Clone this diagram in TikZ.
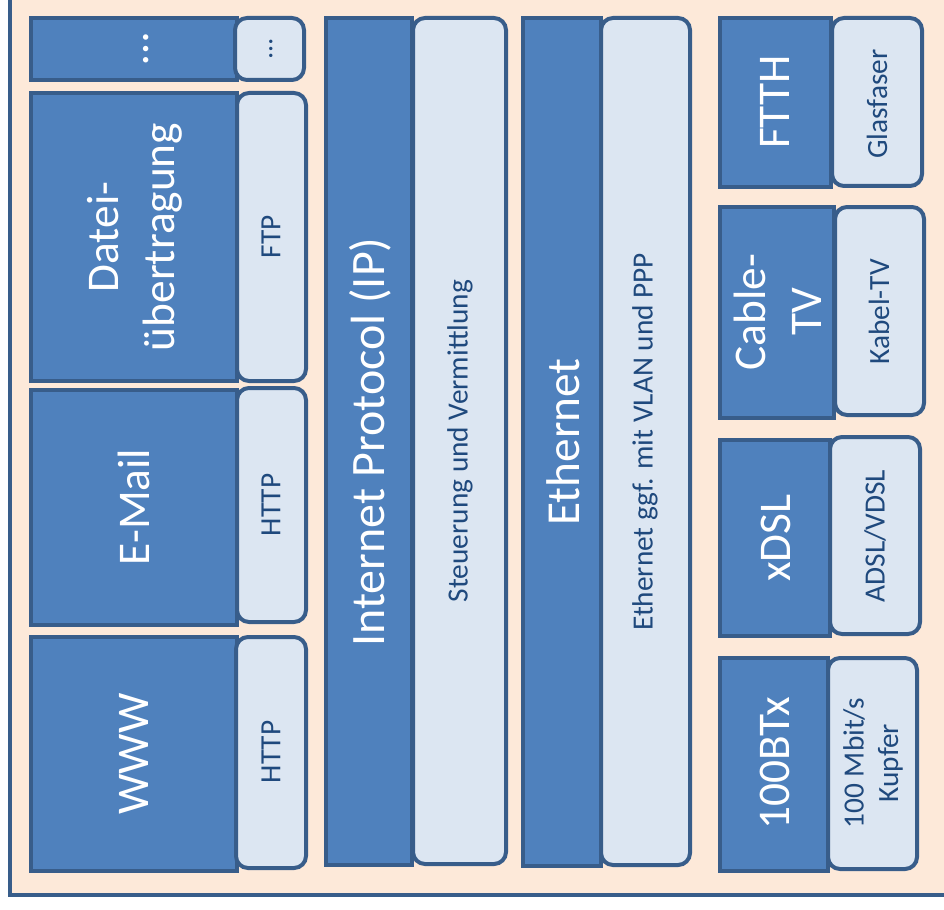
\documentclass[tikz,border=0pt]{standalone}
\usepackage{fontspec}
\setmainfont{Carlito}
\definecolor{frame}{HTML}{385D8A}
\definecolor{darkblue}{HTML}{4F81BD}
\definecolor{lightblue}{HTML}{DCE6F2}
\definecolor{peach}{HTML}{FDE9D9}
\definecolor{textblue}{HTML}{1F497D}
\begin{document}
\begin{tikzpicture}[x=0.75pt,y=0.75pt,yscale=-1,xscale=1,
  layer/.style={draw=frame,fill=darkblue,line width=3pt},
  proto/.style={draw=frame,fill=lightblue,line width=3pt,rounded corners=9pt},
  bigtxt/.style={text=white,font=\fontsize{34}{42}\selectfont,rotate=90,align=center,inner sep=0.75pt},
  smalltxt/.style={text=textblue,font=\fontsize{22}{26}\selectfont,rotate=90,align=center,inner sep=0.75pt}]
\useasboundingbox (0,0) rectangle (944,909);
\clip (0,0) rectangle (944,909);

%Shape: Rectangle [frame]
\draw [draw=frame,fill=peach,line width=3pt] (10,-20) rectangle (980,895) ;

%Shape: Rectangle [apps, dark]
\draw [layer] (31,18) rectangle (237,80) ;
\draw [layer] (31,93) rectangle (237,381) ;
\draw [layer] (31,390) rectangle (237,625) ;
\draw [layer] (31,637) rectangle (237,871) ;
%Shape: Rectangle [apps, light]
\draw [proto] (235,18) rectangle (304,80) ;
\draw [proto] (237,93) rectangle (306,381) ;
\draw [proto] (237,388) rectangle (306,622) ;
\draw [proto] (236,637) rectangle (306,868) ;

%Shape: Rectangle [ip]
\draw [layer] (326,18) rectangle (412,865) ;
\draw [proto] (413,18) rectangle (506,864) ;
%Shape: Rectangle [ethernet]
\draw [layer] (523,18) rectangle (601,866) ;
\draw [proto] (601,18) rectangle (690,865) ;

%Shape: Rectangle [access, dark]
\draw [layer] (720,18) rectangle (831,187) ;
\draw [layer] (720,207) rectangle (834,418) ;
\draw [layer] (720,440) rectangle (830,636) ;
\draw [layer] (720,658) rectangle (828,871) ;
%Shape: Rectangle [access, light]
\draw [proto] (832,18) rectangle (922,186) ;
\draw [proto] (835,207) rectangle (924,415) ;
\draw [proto] (830,437) rectangle (920,634) ;
\draw [proto] (828,658) rectangle (917,869) ;

% Text Node
\draw (146,49) node [bigtxt] (moreapp) {…};
% Text Node
\draw (271,49) node [smalltxt,font=\fontsize{21}{25}\selectfont] (moreproto) {…};
% Text Node
\draw (135,237) node [bigtxt] (file) {Datei-\\übertragung};
% Text Node
\draw (271,237) node [smalltxt] (ftp) {FTP};
% Text Node
\draw (134,507) node [bigtxt] (mail) {E-Mail};
% Text Node
\draw (271,505) node [smalltxt] (mailhttp) {HTTP};
% Text Node
\draw (134,754) node [bigtxt] (www) {WWW};
% Text Node
\draw (271,752) node [smalltxt] (wwwhttp) {HTTP};
% Text Node
\draw (370,442) node [bigtxt,font=\fontsize{36}{42}\selectfont] (ip) {Internet Protocol (IP)};
% Text Node
\draw (460,441) node [smalltxt] (routing) {Steuerung und Vermittlung};
% Text Node
\draw (563,442) node [bigtxt,font=\fontsize{35.5}{42}\selectfont] (eth) {Ethernet};
% Text Node
\draw (645,442) node [smalltxt] (ethvlan) {Ethernet ggf. mit VLAN und PPP};
% Text Node
\draw (775,102) node [bigtxt] (ftth) {FTTH};
% Text Node
\draw (877,104) node [smalltxt] (fibre) {Glasfaser};
% Text Node
\draw (778,312) node [bigtxt] (catv) {Cable-\\TV};
% Text Node
\draw (879,312) node [smalltxt] (kabel) {Kabel-TV};
% Text Node
\draw (776,538) node [bigtxt] (xdsl) {xDSL};
% Text Node
\draw (875,536) node [smalltxt] (adsl) {ADSL/VDSL};
% Text Node
\draw (775,763) node [bigtxt] (btx) {100BTx};
% Text Node
\draw (873,763) node [smalltxt] (copper) {100 Mbit/s\\Kupfer};
\end{tikzpicture}
\end{document}
